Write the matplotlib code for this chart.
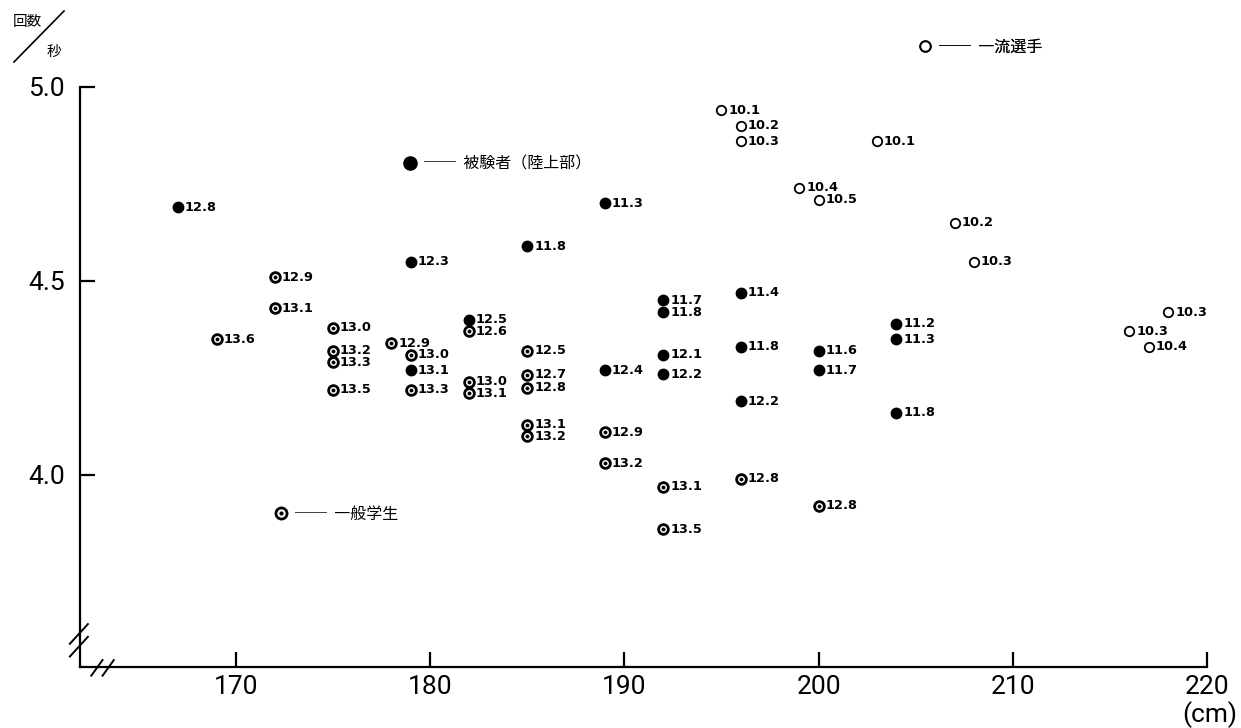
import numpy as np
import matplotlib
matplotlib.use("Agg")
import matplotlib.pyplot as plt
from matplotlib.lines import Line2D

plt.rcParams['font.family'] = ['DejaVu Sans', 'Noto Sans CJK JP']

# 被験者(陸上部) - filled dots
club_h = [167, 179, 185, 189, 182, 179, 189, 192, 192, 192, 192, 196, 196, 196, 200, 200, 204, 204, 204]
club_r = [4.69, 4.55, 4.59, 4.70, 4.40, 4.27, 4.27, 4.45, 4.42, 4.31, 4.26, 4.47, 4.33, 4.19, 4.32, 4.27, 4.39, 4.35, 4.16]
club_t = [12.8, 12.3, 11.8, 11.3, 12.5, 13.1, 12.4, 11.7, 11.8, 12.1, 12.2, 11.4, 11.8, 12.2, 11.6, 11.7, 11.2, 11.3, 11.8]

# 一般学生 - dotted circles
stud_h = [172, 172, 169, 175, 175, 175, 175, 178, 179, 179, 182, 182, 182, 185, 185, 185, 185, 185, 189, 189, 192, 192, 196, 200]
stud_r = [4.51, 4.43, 4.35, 4.38, 4.32, 4.29, 4.22, 4.34, 4.31, 4.22, 4.37, 4.24, 4.21, 4.32, 4.258, 4.225, 4.13, 4.10, 4.11, 4.03, 3.97, 3.86, 3.99, 3.92]
stud_t = [12.9, 13.1, 13.6, 13.0, 13.2, 13.3, 13.5, 12.9, 13.0, 13.3, 12.6, 13.0, 13.1, 12.5, 12.7, 12.8, 13.1, 13.2, 12.9, 13.2, 13.1, 13.5, 12.8, 12.8]

# 一流選手 - open circles
elite_h = [195, 196, 196, 203, 199, 200, 207, 208, 218, 216, 217]
elite_r = [4.94, 4.90, 4.86, 4.86, 4.74, 4.71, 4.65, 4.55, 4.42, 4.37, 4.33]
elite_t = [10.1, 10.2, 10.3, 10.1, 10.4, 10.5, 10.2, 10.3, 10.3, 10.3, 10.4]

xticks = [170, 180, 190, 200, 210, 220]
yticks = [4.0, 4.5, 5.0]

fig = plt.figure(figsize=(12.41, 7.28), dpi=100)
ax = fig.add_axes([80/1241, 61/728, 1127/1241, 580/728])
ax.set_xlim(161.97, 220)
ax.set_ylim(3.505, 5.0)

# markers
ax.plot(club_h, club_r, 'o', ms=7.5, color='black', ls='none', clip_on=False)
ax.plot(stud_h, stud_r, 'o', ms=7.0, mfc='white', mec='black', mew=2.0, ls='none', clip_on=False)
ax.plot(stud_h, stud_r, 'o', ms=1.8, color='black', ls='none', clip_on=False)
ax.plot(elite_h, elite_r, 'o', ms=6.8, mfc='white', mec='black', mew=1.3, ls='none', clip_on=False)

for hs, rs, ts in [(club_h, club_r, club_t), (stud_h, stud_r, stud_t), (elite_h, elite_r, elite_t)]:
    for h, r, t in zip(hs, rs, ts):
        ax.annotate(f"{t:.1f}", (h, r), xytext=(5.0, 0), textcoords='offset points',
                    ha='left', va='center', fontsize=9.3, fontweight='bold',
                    family='DejaVu Sans')

# axes styling
for s in ['top', 'right']:
    ax.spines[s].set_visible(False)
for s in ['left', 'bottom']:
    ax.spines[s].set_linewidth(1.6)
ax.set_xticks(xticks)
ax.set_yticks(yticks)
ax.set_xticklabels([str(v) for v in xticks])
ax.set_yticklabels([f"{v:.1f}" for v in yticks])
ax.tick_params(axis='x', direction='in', length=11, width=1.6, pad=6, labelsize=19)
ax.tick_params(axis='y', direction='in', length=11, width=1.6, pad=11, labelsize=19)
for lab in ax.get_xticklabels() + ax.get_yticklabels():
    lab.set_family('Roboto')

# axis break marks
ax.plot([-0.009, 0.007], [0.018, 0.052], color='black', lw=1.4, transform=ax.transAxes, clip_on=False)
ax.plot([-0.009, 0.007], [0.040, 0.074], color='black', lw=1.4, transform=ax.transAxes, clip_on=False)
ax.plot([0.010, 0.020], [-0.015, 0.012], color='black', lw=1.4, transform=ax.transAxes, clip_on=False)
ax.plot([0.020, 0.030], [-0.015, 0.012], color='black', lw=1.4, transform=ax.transAxes, clip_on=False)

# legends
jp = {'family': 'Noto Sans CJK JP', 'size': 11.5}
h_club = Line2D([], [], marker='o', ms=9.5, color='black', ls='none')
h_ring = Line2D([], [], marker='o', ms=8, mfc='white', mec='black', mew=2.0, ls='none')
h_dot = Line2D([], [], marker='o', ms=2, color='black', ls='none')
h_elite = Line2D([], [], marker='o', ms=7.5, mfc='white', mec='black', mew=1.4, ls='none')

leg_specs = [
    ([h_club], '──  被験者（陸上部）', (402/1241, 1 - 164/728)),
    ([(h_ring, h_dot)], '──  一般学生', (273/1241, 1 - 514/728)),
    ([h_elite], '──  一流選手', (917/1241, 1 - 47/728)),
]
for handles, label, anchor in leg_specs:
    lg = ax.legend(handles, [label], loc='center left', bbox_to_anchor=anchor,
                   bbox_transform=fig.transFigure, frameon=False, prop=jp,
                   handlelength=1.0, handletextpad=0.35, borderpad=0, borderaxespad=0)
    ax.add_artist(lg)

# y unit label 回数/秒
fig.text(27/1241, 1 - 22/728, '回数', ha='center', va='center', fontsize=10.5, family='Noto Sans CJK JP')
fig.text(54/1241, 1 - 52/728, '秒', ha='center', va='center', fontsize=10.5, family='Noto Sans CJK JP')
fig.add_artist(Line2D([14/1241, 64/1241], [1 - 62/728, 1 - 11/728], color='black', lw=1.2,
                      transform=fig.transFigure))

fig.text(1210/1241, 1 - 715/728, '(cm)', ha='center', va='center', fontsize=19, family='Roboto')

fig.savefig('out.png', dpi=100)
